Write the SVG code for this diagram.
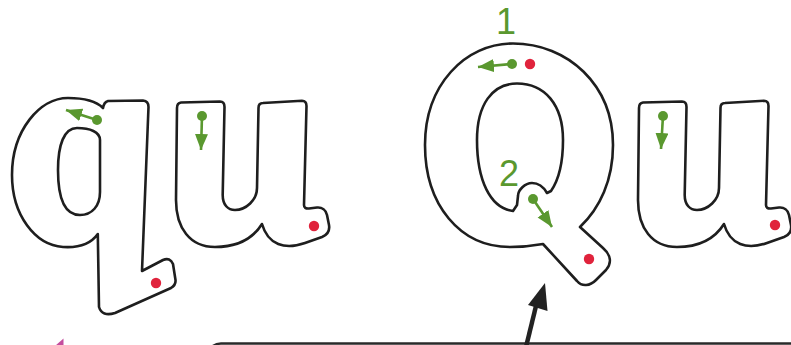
<svg xmlns="http://www.w3.org/2000/svg" xmlns:xlink="http://www.w3.org/1999/xlink" width="791" height="345" viewBox="0 0 791 345">
<style>
.letter{fill:#fff;stroke:#1e1e1e;stroke-width:2.6;stroke-linejoin:round;fill-rule:evenodd}
.start{fill:#5a982f}
.stroke{stroke:#5a982f;stroke-width:2.6;fill:none;marker-end:url(#gh)}
.end{fill:#e0233c}
.num{font-family:"Liberation Sans",Arial,sans-serif;font-size:36px;fill:#5a982f;text-anchor:middle}
</style>
<defs>
<marker id="gh" markerUnits="userSpaceOnUse" markerWidth="17" markerHeight="14" refX="16" refY="6.5" orient="auto">
<path d="M0,0 L16,6.5 L0,13 z" fill="#5a982f"/>
</marker>
<path id="uShape" d="M181,102.5 L220,101.5 Q224.5,101.5 224.5,107 L222.7,195 C222.7,205 228,210 235,210 C246,210 257,200 257,188 L258.5,108 Q258.5,103 263,103 L302,100.8 Q306.5,100.8 306.5,106 L304,205 Q304,209 309,208.5 L317,207.5 C322,207 326,210 327,215 L329,225 C330,231 327,235 322,237 L305,243 C285,250 268,245 262,224 C252,240 235,247 215,247 C190,247 176,228 176,200 L177,108 Q177,103 181,102.5 z"/>
</defs>
<g id="q">
<path class="letter" d="M108,101 L143,100.5 Q148.5,101 148.5,107 L142,271 L163,260 Q170,257 173,264 L175.5,280 Q176,285 171,288 L115,313 Q102,317 99,307 L97.8,234 C90,245 78,248 63,247 C35,245 12,215 12,175 C12,130 40,98 68,98 C85,98 97,102 103,108 Q104,102 108,101 z M77,128 C90,128 100,132 100,140 L100,192 C100,206 92,215 80,215 C66,215 58,200 58,170 C58,145 64,128 77,128 z"/>
<circle class="start" cx="97" cy="120" r="5"/>
<line class="stroke" x1="97" y1="120" x2="66" y2="110"/>
<circle class="end" cx="156" cy="283" r="5.2"/>
</g>
<g id="u1">
<use xlink:href="#uShape" class="letter"/>
<circle class="start" cx="202" cy="116" r="5"/>
<line class="stroke" x1="202" y1="116" x2="201" y2="150"/>
<circle class="end" cx="314" cy="226" r="5.2"/>
</g>
<g id="Q">
<path class="letter" d="M513,43.5 C568,43.5 613,85 613,145 C613,180 600,208 580,227 L603,248 C611,255 612,263 606,270 L596,280 C590,286 582,287 577,281 L543,244 C532,246 520,247 510,247 C460,247 425,205 425,145 C425,85 465,43.5 513,43.5 z M517,83.5 C545,83.5 563,105 563,140 C563,160 560,178 551,191 L547,193 C543,186 538,183 532,183 C525,183 518,190 518,196 L517,205 L513,211 C490,208 477,180 477,140 C477,105 492,83.5 517,83.5 z"/>
<text class="num" x="506" y="33.5">1</text>
<text class="num" x="509" y="186">2</text>
<circle class="start" cx="512" cy="64" r="5"/>
<line class="stroke" x1="512" y1="64" x2="478" y2="67"/>
<circle class="end" cx="530" cy="64" r="5.2"/>
<circle class="start" cx="533" cy="199" r="5"/>
<line class="stroke" x1="533" y1="199" x2="552" y2="227"/>
<circle class="end" cx="589" cy="259" r="5.2"/>
</g>
<g id="u2">
<use xlink:href="#uShape" class="letter" transform="translate(462,0)"/>
<circle class="start" cx="663" cy="116" r="5"/>
<line class="stroke" x1="663" y1="116" x2="661" y2="149"/>
<circle class="end" cx="775" cy="225" r="5.2"/>
</g>
<g id="callout">
<rect x="207" y="343.5" width="620" height="60" rx="14" fill="#fff" stroke="#2a2a2a" stroke-width="2.6"/>
</g>
<g id="connectors">
<line x1="526" y1="347" x2="536" y2="306" stroke="#222" stroke-width="4.5"/>
<polygon points="545,283 528,305 547.5,311" fill="#222"/>
<polygon points="63.5,338.5 55,346 63.5,346" fill="#c44d9e"/>
</g>
</svg>
